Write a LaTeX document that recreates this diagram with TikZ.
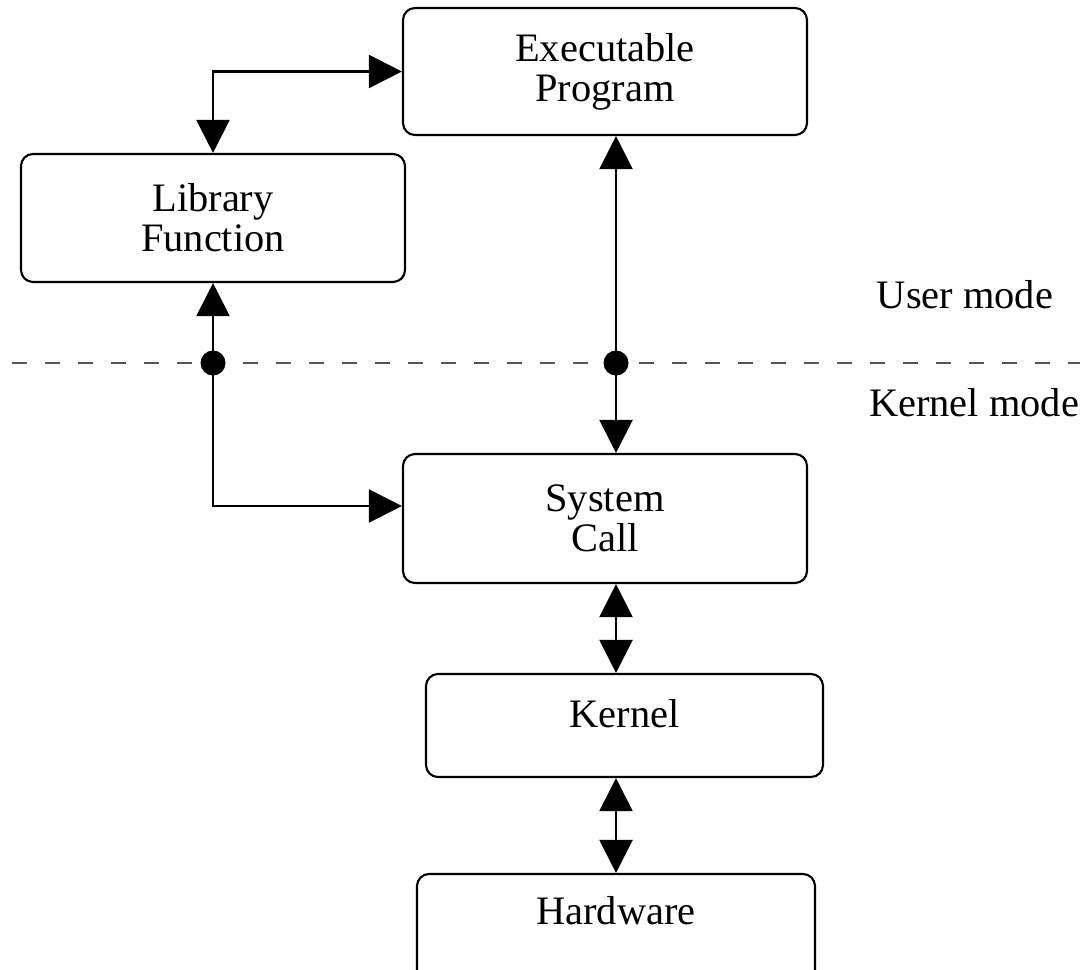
\documentclass[tikz,border=0pt]{standalone}
\usepackage{fontspec}
\setmainfont{Liberation Serif}
\usetikzlibrary{arrows.meta}
\definecolor{ModeLine}{HTML}{555555}

\begin{document}
\begin{tikzpicture}[
        box/.style={draw=black, line width=0.6pt, rounded corners=1.2mm, align=center,
                    inner sep=0pt, font=\fontsize{11.5}{11.4}\selectfont},
        arrow/.style={{Triangle[length=3.3mm,width=3.3mm]}-{Triangle[length=3.3mm,width=3.3mm]}, line width=0.6pt},
        dot/.style={circle, fill=black, inner sep=0pt, minimum size=2.5mm},
        modeline/.style={ModeLine, line width=0.6pt, dash pattern=on 1.5mm off 1.8mm},
        modetext/.style={font=\fontsize{11.5}{11.4}\selectfont}
    ]
        \useasboundingbox (0,0) rectangle (10.8,9.69);

        \node[box, minimum width=4.04cm, minimum height=1.27cm] (exe) at (6.05,8.975) {Executable\\Program};
        \node[box, minimum width=3.84cm, minimum height=1.28cm] (lib) at (2.13,7.51) {Library\\Function};
        \node[box, minimum width=4.04cm, minimum height=1.29cm] (sys) at (6.05,4.505) {System\\Call};
        \node[box, minimum width=3.97cm, minimum height=1.03cm, text depth=0.24cm] (kern) at (6.245,2.435) {Kernel};
        \node[box, minimum width=3.98cm, minimum height=1.1cm, text depth=0.38cm] (hw) at (6.16,0.40) {Hardware};

        \node[modetext] (user) at (9.65,6.74) {User mode};
        \node[modetext] (kmode) at (9.74,5.66) {Kernel mode};

        % user / kernel boundary
        \coordinate (ml) at (0.12,6.06);
        \coordinate (mr) at (10.8,6.06);
        \coordinate (spine) at (6.16,0);
        \draw[modeline] (ml) -- (mr);

        \draw[arrow] (lib.north) |- (exe.west);
        \draw[arrow] (lib.south) |- ([yshift=1.25mm]sys.west);
        \draw[arrow] (exe.south -| spine) -- (sys.north -| spine);
        \draw[arrow] (sys.south -| spine) -- (kern.north -| spine);
        \draw[arrow] (kern.south -| spine) -- (hw.north -| spine);

        \node[dot] (d1) at (lib.south |- ml) {};
        \node[dot] (d2) at (spine |- ml) {};
    \end{tikzpicture}
\end{document}
